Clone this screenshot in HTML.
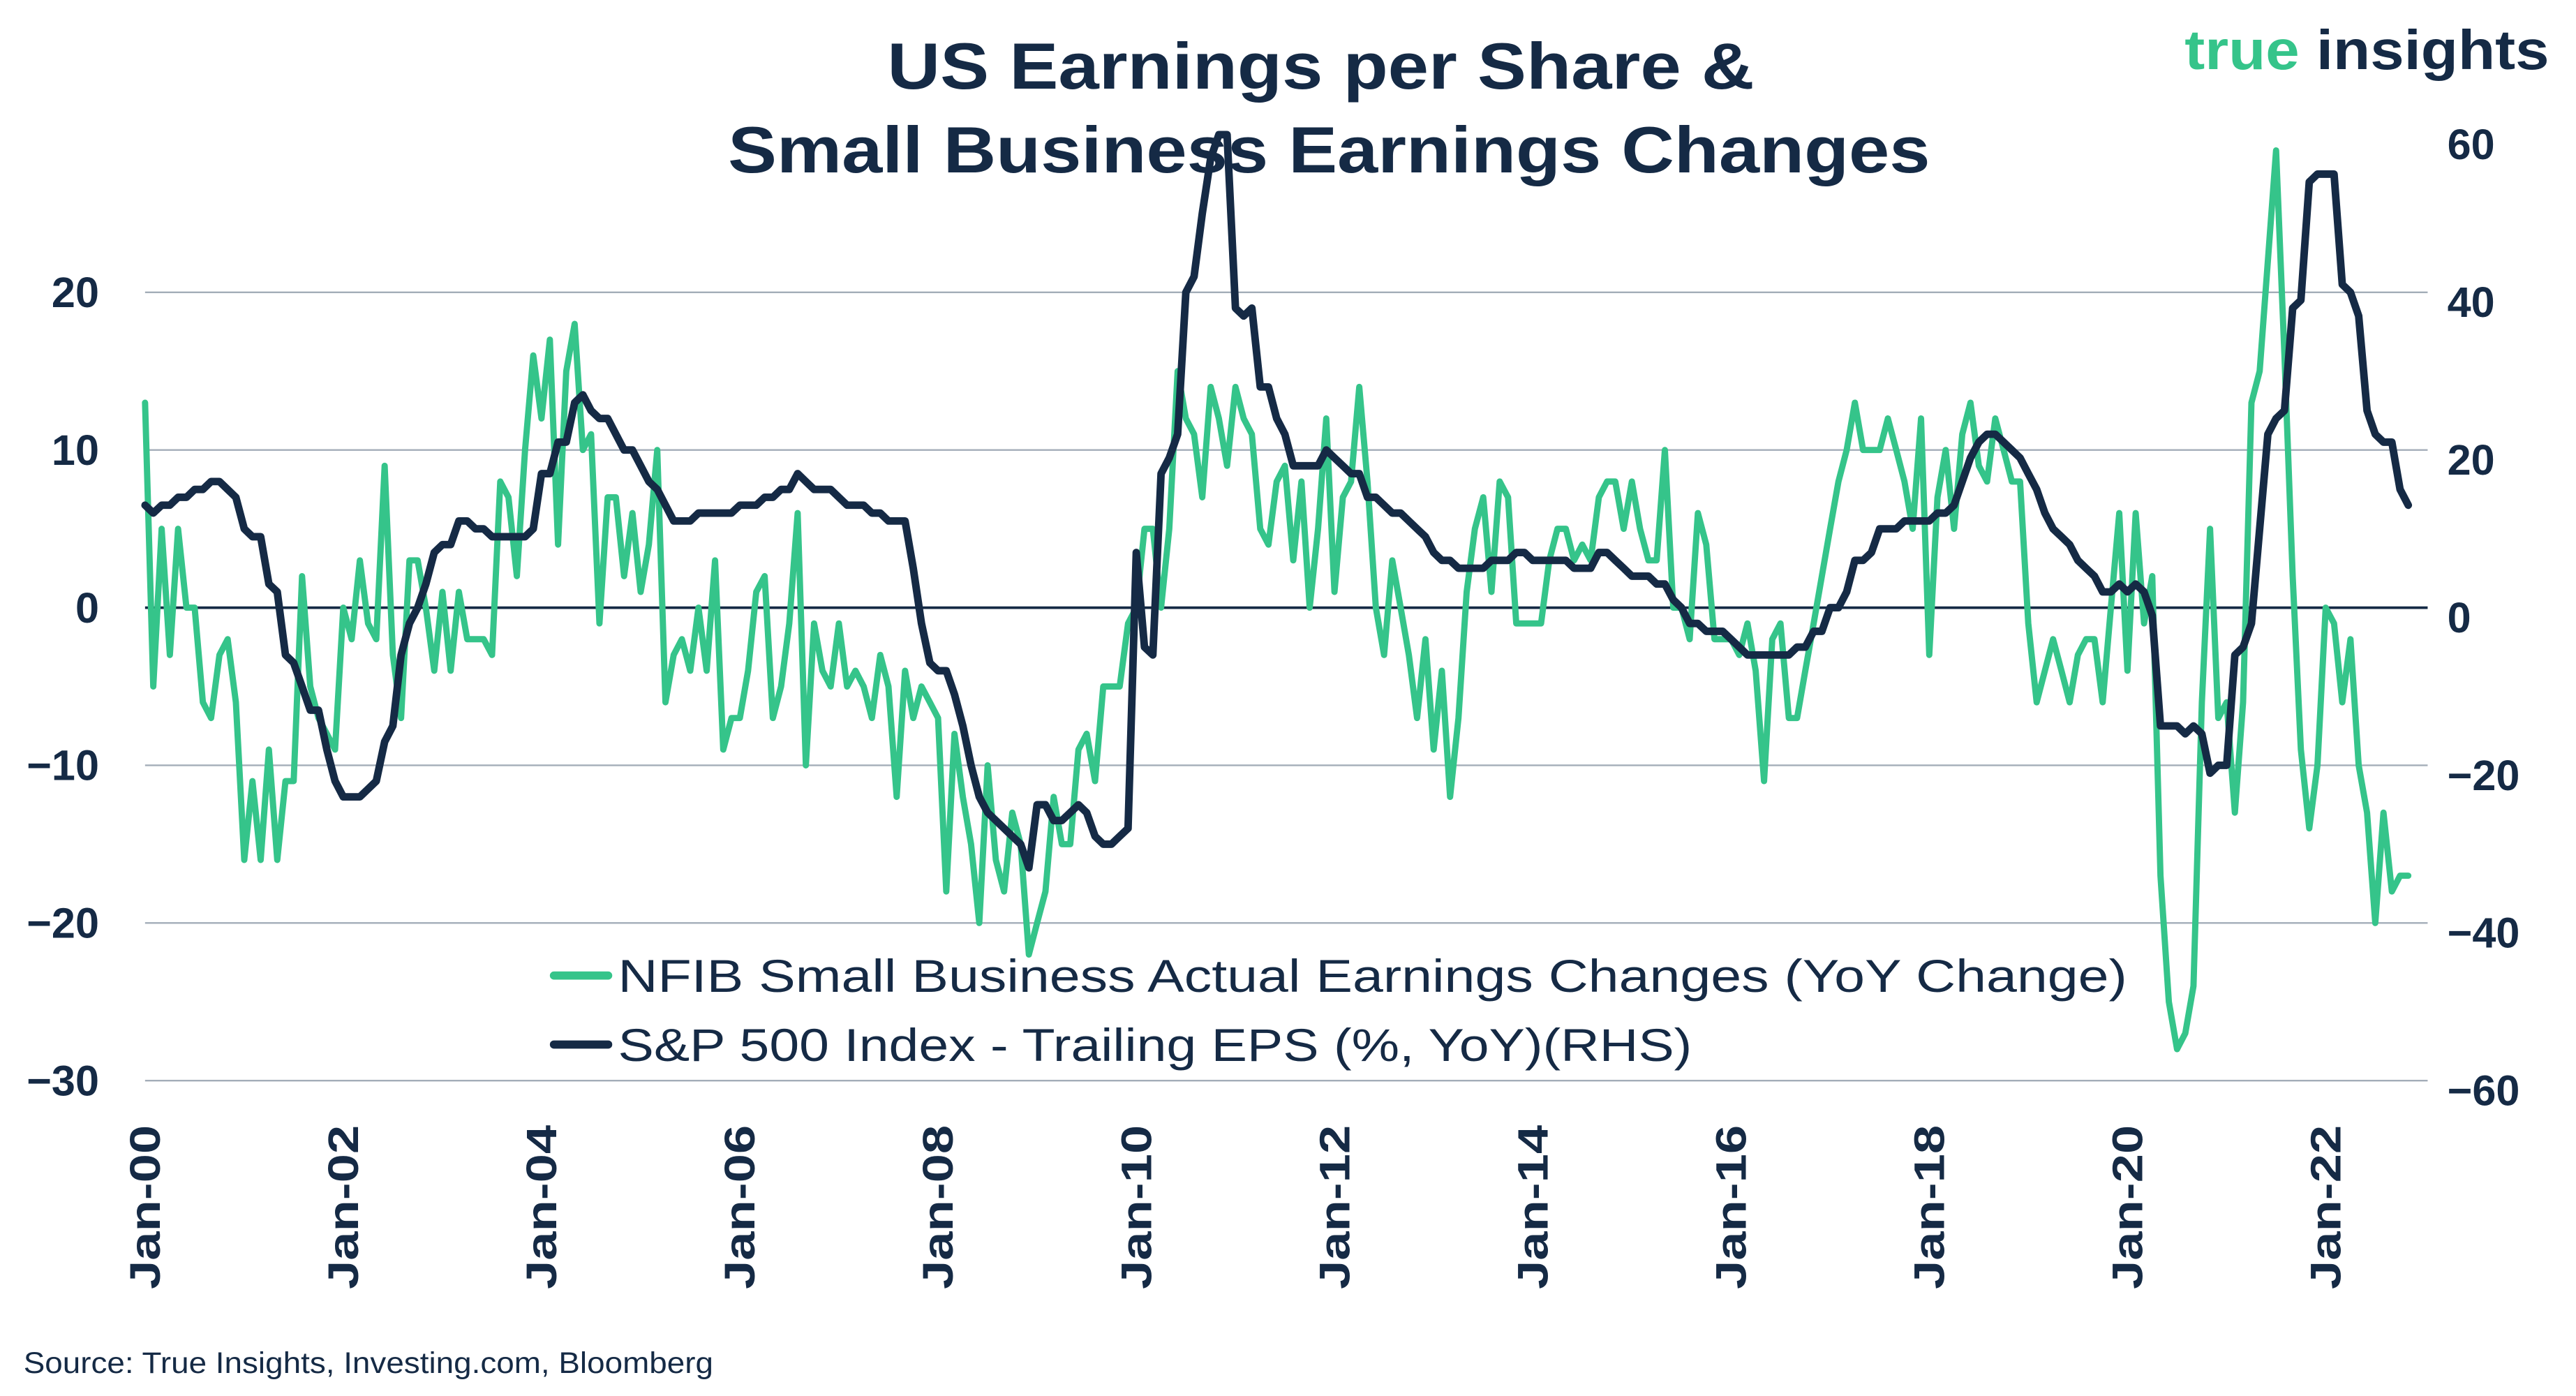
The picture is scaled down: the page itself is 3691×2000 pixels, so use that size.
<!DOCTYPE html>
<html><head><meta charset="utf-8"><style>
html,body{margin:0;padding:0;background:#fff;}
svg{display:block;}
text{font-family:"Liberation Sans",sans-serif;}
</style></head><body>
<svg id="chart" width="3691" height="2000" viewBox="0 0 1568 850" xmlns="http://www.w3.org/2000/svg">
<text x="540" y="54" textLength="528" lengthAdjust="spacingAndGlyphs" font-size="40" font-weight="bold" fill="#152a45">US Earnings per Share &amp;</text>
<text x="443" y="105" textLength="732" lengthAdjust="spacingAndGlyphs" font-size="40" font-weight="bold" fill="#152a45">Small Business Earnings Changes</text>
<text x="1330" y="42" textLength="222" lengthAdjust="spacingAndGlyphs" font-size="34" font-weight="bold"><tspan fill="#35c48a">true </tspan><tspan fill="#152a45">insights</tspan></text>
<g id="grid"></g>
<g id="axes"></g>
<g id="series"></g>
<g>
<line x1="337" y1="594" x2="370" y2="594" stroke="#35c48a" stroke-width="5" stroke-linecap="round"/>
<text x="376" y="604" textLength="919" lengthAdjust="spacingAndGlyphs" font-size="28" fill="#152a45">NFIB Small Business Actual Earnings Changes (YoY Change)</text>
<line x1="337" y1="636" x2="370" y2="636" stroke="#152a45" stroke-width="5" stroke-linecap="round"/>
<text x="376" y="646" textLength="654" lengthAdjust="spacingAndGlyphs" font-size="28" fill="#152a45">S&amp;P 500 Index - Trailing EPS (%, YoY)(RHS)</text>
</g>
<text x="14" y="836" textLength="420" lengthAdjust="spacingAndGlyphs" font-size="18" fill="#152a45">Source: True Insights, Investing.com, Bloomberg</text>
</svg>
<script>
const startYear = 2000;
const nfib = [
13,-5,5,-3,5,0,0,-6,-7,-3,-2,-6,
-16,-11,-16,-9,-16,-11,-11,2,-5,-7,-8,-9,
0,-2,3,-1,-2,9,-3,-7,3,3,0,-4,
1,-4,1,-2,-2,-2,-3,8,7,2,10,16,
12,17,4,15,18,10,11,-1,7,7,2,6,
1,4,10,-6,-3,-2,-4,0,-4,3,-9,-7,
-7,-4,1,2,-7,-5,-1,6,-10,-1,-4,-5,
-1,-5,-4,-5,-7,-3,-5,-12,-4,-7,-5,-6,
-7,-18,-8,-12,-15,-20,-10,-16,-18,-13,-15,-22,
-20,-18,-12,-15,-15,-9,-8,-11,-5,-5,-5,-1,
0,5,5,0,5,15,12,11,7,14,12,9,
14,12,11,5,4,8,9,3,8,0,5,12,
1,7,8,14,8,0,-3,3,0,-3,-7,-2,
-9,-4,-12,-7,1,5,7,1,8,7,-1,-1,
-1,-1,3,5,5,3,4,3,7,8,8,5,
8,5,3,3,10,0,0,-2,6,4,-2,-2,
-2,-3,-1,-4,-11,-2,-1,-7,-7,-4,-1,2,
5,8,10,13,10,10,10,12,10,8,5,12,
-3,7,10,5,11,13,9,8,12,10,8,8,
-1,-6,-4,-2,-4,-6,-3,-2,-2,-6,0,6,
-4,6,-1,2,-17,-25,-28,-27,-24,-6,5,-7,
-6,-13,-6,13,15,22,29,16,2,-9,-14,-10,
0,-1,-6,-2,-10,-13,-20,-13,-18,-17,-17
];
const sp500 = [
13,12,13,13,14,14,15,15,16,16,15,14,
10,9,9,3,2,-6,-7,-10,-13,-13,-18,-22,
-24,-24,-24,-23,-22,-17,-15,-6,-2,0,3,7,
8,8,11,11,10,10,9,9,9,9,9,10,
17,17,21,21,26,27,25,24,24,22,20,20,
18,16,15,13,11,11,11,12,12,12,12,12,
13,13,13,14,14,15,15,17,16,15,15,15,
14,13,13,13,12,12,11,11,11,5,-2,-7,
-8,-8,-11,-15,-20,-24,-26,-27,-28,-29,-30,-33,
-25,-25,-27,-27,-26,-25,-26,-29,-30,-30,-29,-28,
7,-5,-6,17,19,22,40,42,50,57,60,60,
38,37,38,28,28,24,22,18,18,18,18,20,
19,18,17,17,14,14,13,12,12,11,10,9,
7,6,6,5,5,5,5,6,6,6,7,7,
6,6,6,6,6,5,5,5,7,7,6,5,
4,4,4,3,3,1,0,-2,-2,-3,-3,-3,
-4,-5,-6,-6,-6,-6,-6,-6,-5,-5,-3,-3,
0,0,2,6,6,7,10,10,10,11,11,11,
11,12,12,13,16,19,21,22,22,21,20,19,
17,15,12,10,9,8,6,5,4,2,2,3,
2,3,2,-1,-15,-15,-15,-16,-15,-16,-21,-20,
-20,-6,-5,-2,10,22,24,25,38,39,54,55,
55,55,41,40,37,25,22,21,21,15,13
];
const leftTicks = [20,10,0,-10,-20,-30];
const rightTicks = [60,40,20,0,-20,-40,-60];
const xTickLabels = ["Jan-00","Jan-02","Jan-04","Jan-06","Jan-08","Jan-10","Jan-12","Jan-14","Jan-16","Jan-18","Jan-20","Jan-22"];

const NS = "http://www.w3.org/2000/svg";
const X0 = 88, PX_PER_MONTH = 5.03, X1 = 1478;
function xScale(monthIdx){ return X0 + monthIdx * PX_PER_MONTH; }
function yLeft(v){ return 370 - v * 9.6; }
function yRight(v){ return 370 - v * 4.8; }
function mk(tag, attrs){ const e = document.createElementNS(NS, tag); for (const k in attrs) e.setAttribute(k, attrs[k]); return e; }

const grid = document.getElementById('grid');
const axes = document.getElementById('axes');
const series = document.getElementById('series');

leftTicks.forEach(v => {
  const y = yLeft(v);
  const ln = mk('line', {x1:X0, x2:X1, y1:y, y2:y, stroke: v===0 ? '#152a45' : '#a3adb8', 'stroke-width': v===0 ? 1.6 : 1});
  
  
  grid.appendChild(ln);
  const t = mk('text', {x:60, y:y+9, 'text-anchor':'end', 'font-size':26, 'font-weight':'bold', fill:'#152a45'});
  t.textContent = v < 0 ? '\u2212' + Math.abs(v) : String(v);
  
  
  axes.appendChild(t);
});
rightTicks.forEach(v => {
  const y = yRight(v);
  const t = mk('text', {x:1490, y:y+15, 'text-anchor':'start', 'font-size':26, 'font-weight':'bold', fill:'#152a45'});
  t.textContent = v < 0 ? '\u2212' + Math.abs(v) : String(v);
  
  
  axes.appendChild(t);
});
xTickLabels.forEach((lab, i) => {
  const x = xScale(i * 24) + 9;
  const t = mk('text', {x:x, y:785, 'text-anchor':'start', 'font-size':26, 'font-weight':'bold', fill:'#152a45', textLength:100, lengthAdjust:'spacingAndGlyphs', transform:'rotate(-90 '+x+' 785)'});
  t.textContent = lab;
  
  
  axes.appendChild(t);
});

function path(vals, yf){ return vals.map((v,i)=>(i?'L':'M')+xScale(i).toFixed(1)+' '+yf(v).toFixed(1)).join(' '); }
const pN = mk('path', {d:path(nfib, yLeft), fill:'none', stroke:'#35c48a', 'stroke-width':3.8, 'stroke-linejoin':'round', 'stroke-linecap':'round'});


series.appendChild(pN);
const pS = mk('path', {d:path(sp500, yRight), fill:'none', stroke:'#152a45', 'stroke-width':4.6, 'stroke-linejoin':'round', 'stroke-linecap':'round'});


series.appendChild(pS);
</script>
</body></html>
